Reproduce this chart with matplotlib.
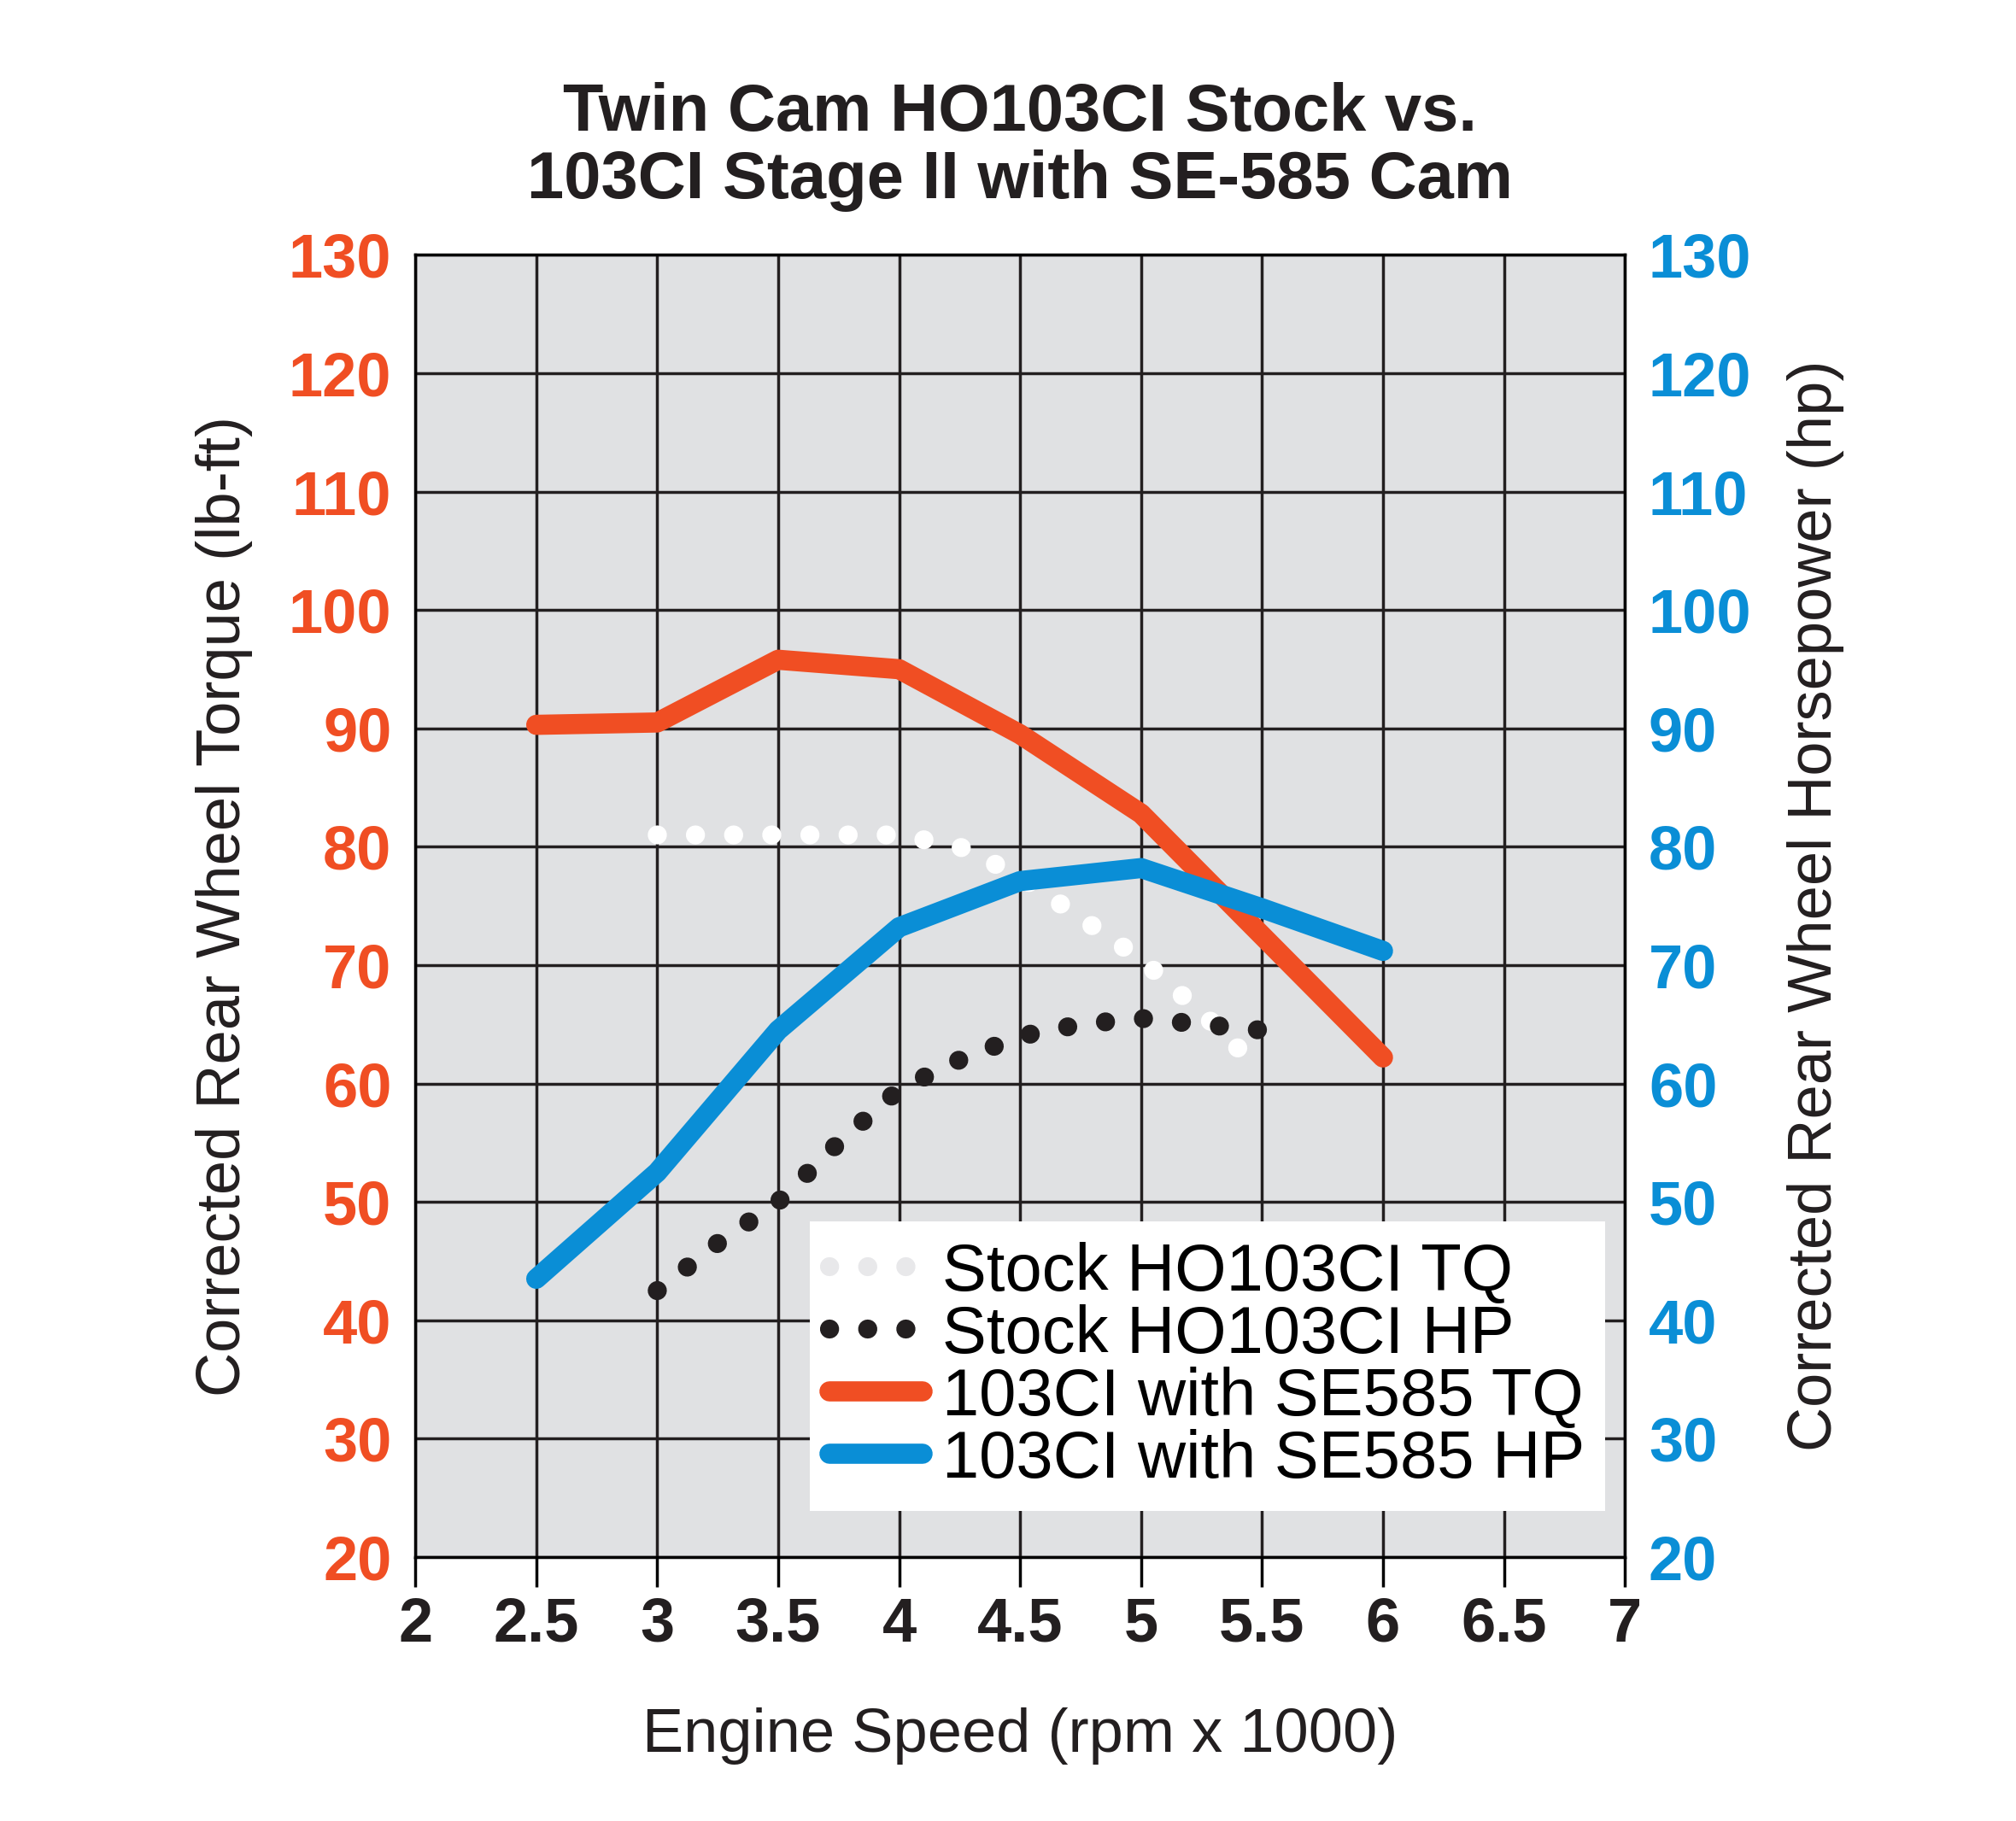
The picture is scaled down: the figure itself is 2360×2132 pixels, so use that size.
import matplotlib.pyplot as plt

# data
stock_rpm = [3, 3.25, 3.5, 3.75, 4, 4.25, 4.5, 4.75, 5, 5.25, 5.5]
stock_tq = [81, 81, 81, 81, 81, 80, 77.5, 74, 70.5, 66, 61]
stock_hp = [42.5, 46.5, 50, 55, 59.5, 62, 64, 65, 65.5, 65, 64.5]

se_rpm = [2.5, 3, 3.5, 4, 4.5, 5, 5.5, 6]
se_tq = [90.3, 90.5, 95.8, 95, 89.5, 82.8, 72.5, 62.2]
se_hp = [43.5, 52.5, 64.5, 73.2, 77.1, 78.2, 74.8, 71.2]

x_ticks = [2, 2.5, 3, 3.5, 4, 4.5, 5, 5.5, 6, 6.5, 7]
x_labels = ['2', '2.5', '3', '3.5', '4', '4.5', '5', '5.5', '6', '6.5', '7']
y_ticks = list(range(20, 131, 10))

orange = '#f04e23'
blue = '#0a8ed6'

plt.rcParams['font.family'] = 'Liberation Sans'
fig = plt.figure(figsize=(23.6, 21.32), dpi=100)
ax = fig.add_axes([0.206, 0.145, 0.600, 0.715])
ax.set_facecolor('#e0e1e3')
ax.set_xlim(2, 7)
ax.set_ylim(20, 130)
ax.set_xticks(x_ticks)
ax.set_xticklabels(x_labels, fontsize=52, fontweight='bold', color='#231f20')
ax.set_yticks(y_ticks)
ax.set_yticklabels([str(v) for v in y_ticks], fontsize=52, fontweight='bold', color=orange)
ax.grid(True, color='#231f20', linewidth=2.5)
ax.set_axisbelow(True)
for s in ax.spines.values():
    s.set_linewidth(2.5)
ax.tick_params(axis='x', direction='out', length=25, width=2.5, pad=8)
ax.tick_params(axis='y', length=0, pad=20)

dot = (0, (0.01, 2.0))
ax.plot(stock_rpm, stock_tq, color='white', lw=16, linestyle=dot,
        dash_capstyle='round', label='Stock HO103CI TQ')
ax.plot(stock_rpm, stock_hp, color='#231f20', lw=16, linestyle=dot,
        dash_capstyle='round', label='Stock HO103CI HP')
ax.plot(se_rpm, se_tq, color=orange, lw=17, solid_capstyle='round',
        label='103CI with SE585 TQ')
ax.plot(se_rpm, se_hp, color=blue, lw=17, solid_capstyle='round',
        label='103CI with SE585 HP')

ax2 = ax.twinx()
ax2.set_ylim(20, 130)
ax2.set_yticks(y_ticks)
ax2.set_yticklabels([str(v) for v in y_ticks], fontsize=52, fontweight='bold', color=blue)
ax2.tick_params(axis='y', length=0, pad=20)
for s in ax2.spines.values():
    s.set_visible(False)

ax.set_xlabel('Engine Speed (rpm x 1000)', fontsize=52, color='#231f20', labelpad=45)
ax.set_ylabel('Corrected Rear Wheel Torque (lb-ft)', fontsize=52, color='#231f20', labelpad=30)
ax2.set_ylabel('Corrected Rear Wheel Horsepower (hp)', fontsize=52, color='#231f20', labelpad=30)

leg = ax.legend(loc='lower right', bbox_to_anchor=(1.0, 0.02), fontsize=56,
                frameon=True, fancybox=False, framealpha=1, edgecolor='white',
                handlelength=1.4, handletextpad=0.3, labelspacing=0.0, borderpad=0.3,
                borderaxespad=0.3)
leg.get_frame().set_linewidth(0)
leg.get_lines()[0].set_color('#e8e8ea')

fig.text(0.506, 0.955, 'Twin Cam HO103CI Stock vs.\n103CI Stage II with SE-585 Cam',
         ha='center', va='top', fontsize=56, fontweight='bold', color='#231f20',
         linespacing=1.1)

fig.savefig('out.png', dpi=100)
